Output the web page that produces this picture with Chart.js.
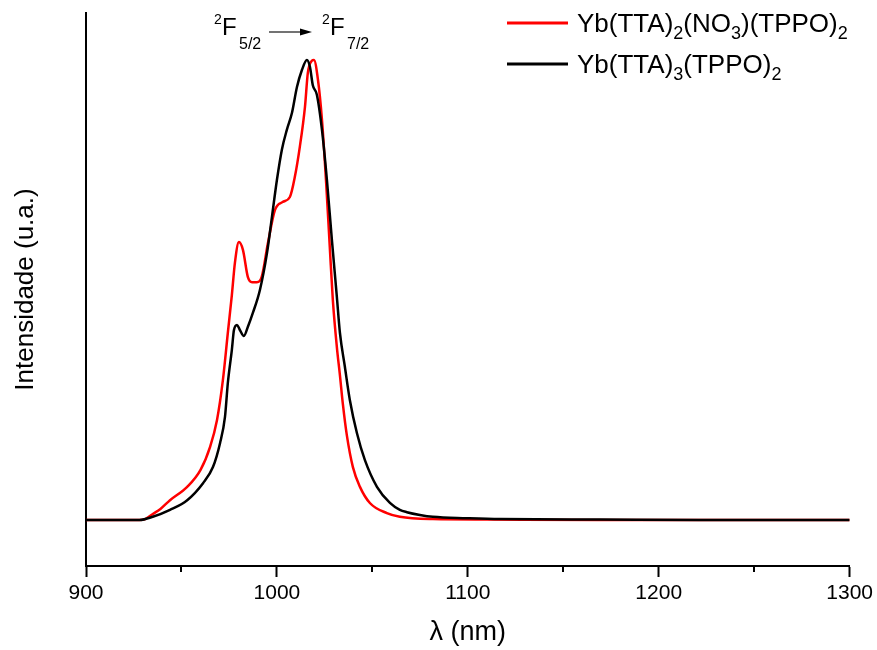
<!DOCTYPE html>
<html>
<head>
<meta charset="utf-8">
<script src="https://cdn.jsdelivr.net/npm/chart.js@4/dist/chart.umd.min.js"></script>
<style>
html,body{margin:0;padding:0;background:#fff;}
canvas{display:block;}
</style>
</head>
<body>
<canvas id="c" width="877" height="650"></canvas>
<script>
// ---- data (wavelength in nm, normalised intensity) ----
const redWavelength = [900, 928, 931, 935, 939, 944, 953, 960, 965, 968.6, 971.7, 974.3, 976.4, 978, 980.1, 982.2, 984.8, 987, 989.5, 992, 995.3, 999, 1003, 1006.8, 1009.4, 1012, 1014.7, 1016.2, 1018.3, 1019.4, 1021.5, 1023.6, 1025.7, 1027.7, 1029.3, 1031.4, 1033, 1034.6, 1036.6, 1039.8, 1043.5, 1048.7, 1057.6, 1064.4, 1081.7, 1110, 1169, 1300];
const redIntensity  = [0, 0, 0.002, 0.013, 0.024, 0.043, 0.072, 0.109, 0.159, 0.217, 0.304, 0.407, 0.489, 0.559, 0.604, 0.587, 0.528, 0.517, 0.517, 0.528, 0.602, 0.674, 0.691, 0.702, 0.746, 0.811, 0.898, 0.972, 0.998, 1.0, 0.957, 0.870, 0.739, 0.593, 0.478, 0.376, 0.315, 0.250, 0.185, 0.115, 0.072, 0.037, 0.015, 0.007, 0.002, 0.001, 0, 0];

const blackWavelength = [900, 928, 935, 944, 953, 961.3, 966.5, 970.2, 972.8, 974.3, 976.4, 977.5, 979.1, 980.6, 982.7, 984.8, 987.4, 991.1, 994.8, 997.4, 1000, 1002.6, 1005.2, 1007.9, 1010.5, 1013.1, 1015.7, 1017.3, 1018.8, 1020.9, 1023.6, 1026.2, 1028.8, 1031.4, 1033, 1035.6, 1038.2, 1041.9, 1046.1, 1052.4, 1059.2, 1064.4, 1068.1, 1074.9, 1081.7, 1099.5, 1116.8, 1169, 1221, 1300];
const blackIntensity  = [0, 0, 0.007, 0.022, 0.043, 0.080, 0.115, 0.167, 0.224, 0.298, 0.370, 0.413, 0.424, 0.413, 0.400, 0.420, 0.450, 0.500, 0.580, 0.659, 0.739, 0.805, 0.848, 0.885, 0.941, 0.978, 1.0, 0.985, 0.945, 0.925, 0.848, 0.739, 0.609, 0.485, 0.407, 0.333, 0.261, 0.189, 0.130, 0.072, 0.037, 0.022, 0.017, 0.011, 0.007, 0.004, 0.002, 0.001, 0, 0];

const xTicksMajor = [900, 1000, 1100, 1200, 1300];
const xTicksMinor = [950, 1050, 1150, 1250];
const xTitle = 'λ (nm)';
const yTitle = 'Intensidade (u.a.)';
const seriesNames = ['Yb(TTA)2(NO3)(TPPO)2', 'Yb(TTA)3(TPPO)2'];

const FONT = '"Liberation Sans", Arial, sans-serif';

function toPoints(xs, ys){ return xs.map((x,i)=>({x:x, y:ys[i]})); }

function drawRich(ctx, x, baseline, parts){
  ctx.textAlign = 'left';
  ctx.textBaseline = 'alphabetic';
  for (const [t, size, dy] of parts){
    ctx.font = size + 'px ' + FONT;
    ctx.fillText(t, x, baseline + dy);
    x += ctx.measureText(t).width;
  }
  return x;
}

const overlay = {
  id: 'overlay',
  afterDraw(chart){
    const ctx = chart.ctx;
    const xs = chart.scales.x;
    const bottom = chart.chartArea.bottom;
    ctx.save();
    // minor ticks
    ctx.strokeStyle = '#000';
    ctx.lineWidth = 2;
    for (const v of xTicksMinor){
      const px = Math.round(xs.getPixelForValue(v));
      ctx.beginPath();
      ctx.moveTo(px, bottom);
      ctx.lineTo(px, bottom + 6);
      ctx.stroke();
    }
    // legend
    ctx.fillStyle = '#000';
    ctx.lineWidth = 3;
    ctx.strokeStyle = '#ff0000';
    ctx.beginPath(); ctx.moveTo(507, 23); ctx.lineTo(568, 23); ctx.stroke();
    drawRich(ctx, 577, 32, [['Yb(TTA)',26,0],['2',18,7],['(NO',26,0],['3',18,7],[')(TPPO)',26,0],['2',18,7]]);
    ctx.strokeStyle = '#000';
    ctx.beginPath(); ctx.moveTo(507, 64); ctx.lineTo(568, 64); ctx.stroke();
    drawRich(ctx, 577, 73, [['Yb(TTA)',26,0],['3',18,7],['(TPPO)',26,0],['2',18,7]]);
    // annotation 2F5/2 -> 2F7/2
    drawRich(ctx, 214, 24, [['2',14,0]]);
    drawRich(ctx, 222, 35, [['F',24,0]]);
    drawRich(ctx, 239, 49, [['5/2',16,0]]);
    ctx.strokeStyle = '#444';
    ctx.lineWidth = 1.5;
    ctx.beginPath(); ctx.moveTo(269, 32); ctx.lineTo(301, 32); ctx.stroke();
    ctx.fillStyle = '#000';
    ctx.beginPath(); ctx.moveTo(300, 28.5); ctx.lineTo(312, 32); ctx.lineTo(300, 35.5); ctx.closePath(); ctx.fill();
    drawRich(ctx, 322, 24, [['2',14,0]]);
    drawRich(ctx, 330, 35, [['F',24,0]]);
    drawRich(ctx, 347, 49, [['7/2',16,0]]);
    ctx.restore();
  }
};

new Chart(document.getElementById('c'), {
  type: 'line',
  data: {
    datasets: [
      { label: seriesNames[0], data: toPoints(redWavelength, redIntensity), borderColor: '#ff0000', borderWidth: 2.5, pointRadius: 0, fill: false, cubicInterpolationMode: 'monotone', order: 2 },
      { label: seriesNames[1], data: toPoints(blackWavelength, blackIntensity), borderColor: '#000000', borderWidth: 2.5, pointRadius: 0, fill: false, cubicInterpolationMode: 'monotone', order: 1 }
    ]
  },
  options: {
    responsive: false,
    animation: false,
    devicePixelRatio: 1,
    layout: { padding: { left: 0, right: 27, top: 13, bottom: 0 } },
    plugins: { legend: { display: false }, tooltip: { enabled: false }, title: { display: false } },
    scales: {
      x: {
        type: 'linear', min: 900, max: 1300,
        afterBuildTicks(scale){ scale.ticks = xTicksMajor.map(v => ({value: v})); },
        afterFit(scale){ scale.height = 84; },
        ticks: { color: '#000', font: { family: FONT, size: 21 }, padding: 4, maxRotation: 0, autoSkip: false, callback: v => String(v) },
        grid: { drawOnChartArea: false, drawTicks: true, tickLength: 11, tickWidth: 2, tickColor: '#000' },
        border: { display: true, color: '#000', width: 2 },
        title: { display: true, text: xTitle, color: '#000', font: { family: FONT, size: 27 }, padding: { top: 0, bottom: 1 } }
      },
      y: {
        type: 'linear', min: -0.1, max: 1.102,
        afterFit(scale){ scale.width = 86; },
        ticks: { display: false },
        grid: { drawOnChartArea: false, drawTicks: false },
        border: { display: true, color: '#000', width: 2 },
        title: { display: true, text: yTitle, color: '#000', font: { family: FONT, size: 26 }, padding: { top: 10, bottom: 0 } }
      }
    }
  },
  plugins: [overlay]
});
</script>
</body>
</html>
